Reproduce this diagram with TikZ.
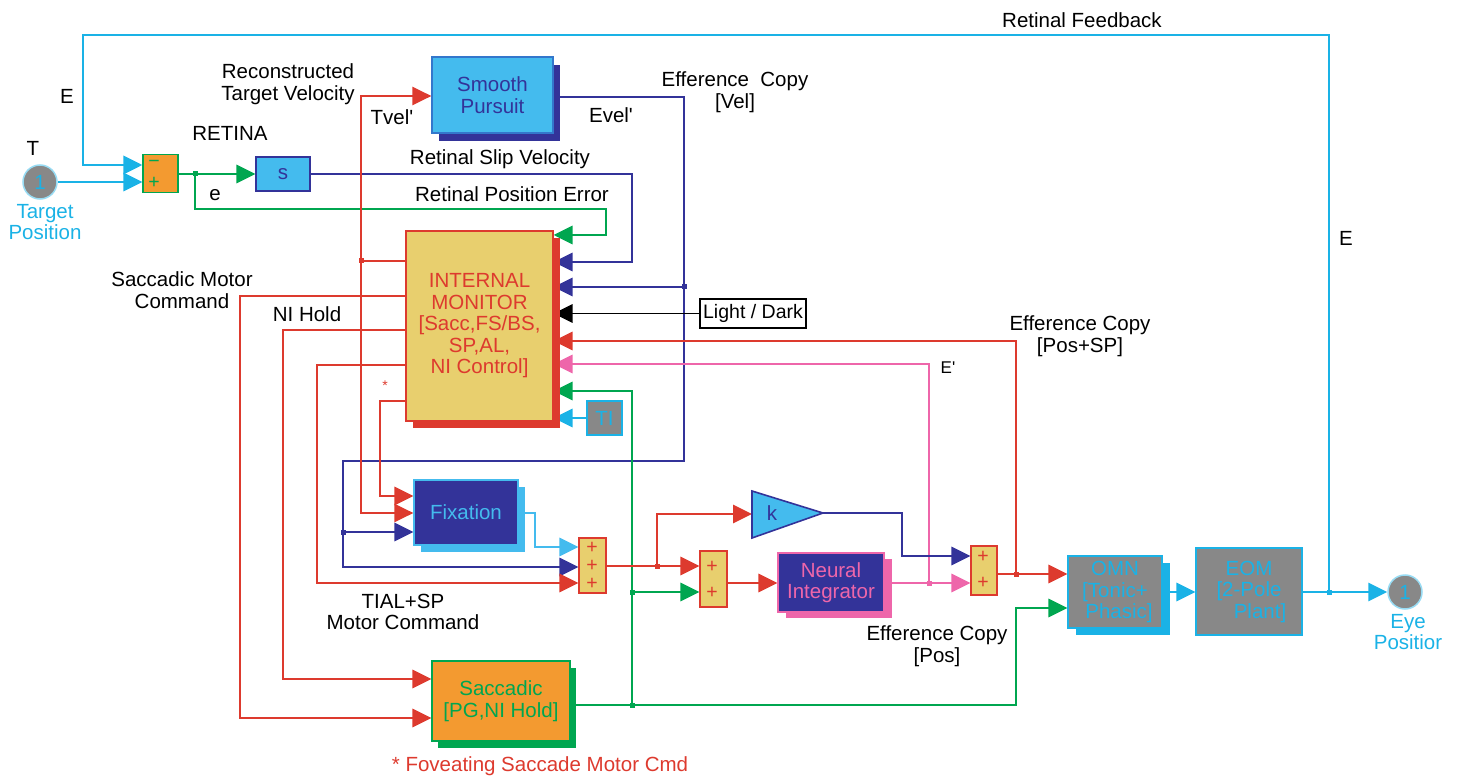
\documentclass[tikz,border=0pt]{standalone}
\usepackage{fontspec}
\setmainfont{Liberation Sans}[Ligatures=TeXOff]
\usetikzlibrary{arrows.meta,shadows,backgrounds}
\definecolor{cy}{HTML}{1AB2E6}
\definecolor{lb}{HTML}{44BBEE}
\definecolor{db}{HTML}{333399}
\definecolor{rd}{HTML}{DD3A2E}
\definecolor{gn}{HTML}{00A650}
\definecolor{pk}{HTML}{EE66AA}
\definecolor{og}{HTML}{F39A30}
\definecolor{ye}{HTML}{E8CF6E}
\definecolor{gy}{HTML}{888888}
\definecolor{spb}{HTML}{3377CC}
\begin{document}
\begin{tikzpicture}[x=1pt,y=-1pt,
  font=\fontsize{20.5}{21.5}\selectfont,
  wire/.style={line width=1.8pt},
  arr/.style={wire,-{Triangle[length=19pt,width=18.5pt]}},
  blk/.style={draw,line width=1.4pt,inner sep=0pt,align=center},
  sumb/.style={draw=rd,fill=ye,line width=1.4pt,inner sep=0pt},
  lbl/.style={align=center,inner sep=0pt},
  jdot/.style={minimum size=5pt,inner sep=0pt,draw=none},
  sgn/.style={inner sep=0pt,text=rd,font=\fontsize{19.5}{19.5}\selectfont},
  shd/.style n args={3}{drop shadow={shadow xshift=#1pt,shadow yshift=-#2pt,fill=#3,opacity=1}},
]
\useasboundingbox (0,0) rectangle (1460,778);

% ---------- blocks ----------
\node[circle,draw=cy!45!white,fill=gy,line width=1.5pt,minimum size=34pt,inner sep=0pt,text=cy] (tp) at (40,182) {1};
\node[circle,draw=cy!45!white,fill=gy,line width=1.5pt,minimum size=34pt,inner sep=0pt,text=cy] (eye) at (1405,592) {1};
\node[blk,draw=gn,fill=og,minimum width=35pt,minimum height=38pt] (sum1) at (160.5,173.5) {};
\node[sgn,text=gn] (m1) at (154,164) {−};
\node[sgn,text=gn] (p1) at (154,183) {+};
\node[blk,draw=db,fill=lb,text=db,minimum width=54pt,minimum height=34pt] (s) at (283,174) {s};
\node[blk,draw=spb,fill=lb,text=db,minimum width=121pt,minimum height=76pt,shd={7}{8}{db}] (sp) at (492.5,95) {Smooth\\Pursuit};
\node[blk,draw=rd,fill=ye,text=rd,minimum width=147pt,minimum height=190pt,shd={7}{7}{rd}] (im) at (479.5,326) {INTERNAL\\MONITOR\\{}[Sacc,FS/BS,\\SP,AL,\\NI Control]};
\node[blk,draw=cy,fill=gy,text=cy,minimum width=35pt,minimum height=34pt] (ti) at (604.5,418) {TI};
\node[blk,draw=black,fill=white,minimum width=106pt,minimum height=29pt,line width=1.2pt,font=\fontsize{19.5}{20}\selectfont] (ld) at (753,313.5) {Light / Dark};
\node[blk,draw=lb,fill=db,text=lb,minimum width=104pt,minimum height=65pt,shd={7}{7}{lb}] (fix) at (466,512.5) {Fixation};
\node[sumb,minimum width=27pt,minimum height=55pt] (sum2) at (592.5,565.5) {};
\node[sgn] (p21) at (592,548) {+};
\node[sgn] (p22) at (592,566) {+};
\node[sgn] (p23) at (592,584) {+};
\node[sumb,minimum width=27pt,minimum height=56pt] (sum3) at (713.5,579) {};
\node[sgn] (p31) at (712,567) {+};
\node[sgn] (p32) at (712,593) {+};
\draw[db,fill=lb,line width=1.6pt] (752,491) -- (823,513) -- (752,538) -- cycle;
\node[text=db,inner sep=0pt] (klab) at (772,513) {k};
\node[blk,draw=pk,fill=db,text=pk,minimum width=106pt,minimum height=59pt,shd={8}{6}{pk}] (ni) at (831,582.5) {Neural\\Integrator};
\node[sumb,minimum width=26pt,minimum height=49pt] (sum4) at (984,570.5) {};
\node[sgn] (p41) at (983,557) {+};
\node[sgn] (p42) at (983,583) {+};
\node[blk,draw=cy,fill=gy,text=cy,minimum width=94pt,minimum height=72pt,shd={8}{7}{cy}] (omn) at (1115,592) {OMN\\{}[Tonic+\\\hspace*{8pt}Phasic]};
\node[blk,draw=cy,fill=gy,text=cy,minimum width=106pt,minimum height=87pt] (eom) at (1249,591.5) {EOM\\{}[2-Pole\\\hspace*{22pt}Plant]};
\node[blk,draw=gn,fill=og,text=gn,minimum width=138pt,minimum height=80pt,shd={6}{7}{gn}] (sac) at (501,701) {Saccadic\\{}[PG,NI Hold]};

% ---------- junctions ----------
\coordinate (jE) at (1329,592);
\coordinate (je) at (195,174);
\coordinate (jb1) at (684,287);
\coordinate (jb2) at (343,532);
\coordinate (jr1) at (361,261);
\coordinate (jr2) at (657,566);
\coordinate (jg1) at (632,705);
\coordinate (jg2) at (632,592);
\coordinate (jp) at (929,583);
\coordinate (j4) at (1016,574);
\coordinate (kin) at (752,514);
\coordinate (kout) at (823,513);

% ---------- connectors ----------
\begin{scope}[on background layer]
\draw[arr,cy,line width=2.2pt] (jE) |- (83,35) |- (sum1.west |- 0,165);
\draw[arr,cy] (tp.east) -- (sum1.west |- tp.east);
\draw[arr,gn] (sum1.east |- s.west) -- (s.west);
\draw[arr,gn] (je) |- (606,209) |- (im.east |- 0,235);
\draw[arr,db] (s.east) -| (632,262) -- (im.east |- 0,262);
\draw[arr,db] (sp.east |- 0,97) -| (684,461) -| (343,567) -- (sum2.west |- 0,567);
\draw[arr,db] (jb1) -- (im.east |- jb1);
\draw[arr,db] (jb2) -- (fix.west |- jb2);
\draw[arr,black] (ld.west) -- (im.east |- ld.west);
\draw[arr,rd] (j4) |- (im.east |- 0,341);
\draw[arr,pk] (jp) |- (im.east |- 0,364);
\draw[arr,gn] (jg1) |- (im.east |- 0,391);
\draw[arr,gn] (jg2) -- (sum3.west |- jg2);
\draw[arr,cy] (ti.west) -- (im.east |- ti.west);
\draw[wire,rd,line width=1.4pt] (im.west |- jr1) -- (jr1);
\draw[arr,rd,line width=1.4pt] (jr1) |- (sp.west |- 0,96);
\draw[arr,rd,line width=1.4pt] (jr1) |- (fix.west |- 0,513);
\draw[arr,rd] (im.west |- 0,296) -| (240,718) -- (sac.west |- 0,718);
\draw[arr,rd] (im.west |- 0,330) -| (283,679) -- (sac.west |- 0,679);
\draw[arr,rd] (im.west |- 0,365) -| (317,583) -- (sum2.west |- 0,583);
\draw[arr,rd] (im.west |- 0,401) -| (380,496) -- (fix.west |- 0,496);
\draw[arr,lb] (fix.east |- 0,513) -| (535,547) -- (sum2.west |- 0,547);
\draw[arr,rd] (sum2.east |- jr2) -- (sum3.west |- jr2);
\draw[arr,rd] (jr2) |- (kin);
\draw[arr,rd] (sum3.east |- 0,583) -- (ni.west |- 0,583);
\draw[arr,db] (kout) -| (902,556) -- (sum4.west |- 0,556);
\draw[arr,pk] (ni.east |- jp) -- (sum4.west |- jp);
\draw[arr,rd] (sum4.east |- j4) -- (omn.west |- j4);
\draw[arr,gn] (sac.east |- jg1) -| (1016,608) -- (omn.west |- 0,608);
\draw[arr,cy] (omn.east |- jE) -- (eom.west |- jE);
\draw[arr,cy] (eom.east |- jE) -- (eye.west);
\node[jdot,fill=cy] (d1) at (jE) {};
\node[jdot,fill=gn] (d2) at (je) {};
\node[jdot,fill=db] (d3) at (jb1) {};
\node[jdot,fill=db] (d4) at (jb2) {};
\node[jdot,fill=rd] (d5) at (jr1) {};
\node[jdot,fill=rd] (d6) at (jr2) {};
\node[jdot,fill=gn] (d7) at (jg1) {};
\node[jdot,fill=gn] (d8) at (jg2) {};
\node[jdot,fill=pk] (d9) at (jp) {};
\node[jdot,fill=rd] (d10) at (j4) {};
\end{scope}

% ---------- labels ----------
\node[lbl] (l1) at (1082,20) {Retinal Feedback};
\node[lbl] (l2) at (67,96) {E};
\node[lbl] (l3) at (33,148) {T};
\node[lbl,text=cy] (l4) at (45,222) {Target\\Position};
\node[lbl] (l5) at (230,133) {RETINA};
\node[lbl] (l6) at (288,84) {Reconstructed\\Target Velocity};
\node[lbl] (l7) at (392,117) {Tvel'};
\node[lbl] (l8) at (611,115) {Evel'};
\node[lbl] (l9) at (735,92) {Efference~ Copy\\{}[Vel]};
\node[lbl] (l10) at (500,159) {Retinal Slip Velocity};
\node[lbl] (l11) at (215,195) {e};
\node[lbl] (l12) at (512,194) {Retinal Position Error};
\node[lbl] (l13) at (182,290) {Saccadic Motor\\Command};
\node[lbl] (l14) at (307,314) {NI Hold};
\node[lbl,text=rd,font=\fontsize{14}{14}\selectfont] (l15) at (385,386) {*};
\node[lbl] (l16) at (1080,336) {Efference Copy\\{}[Pos+SP]};
\node[lbl,font=\fontsize{17}{17}\selectfont] (l17) at (948,368) {E'};
\node[lbl] (l18) at (403,612) {TIAL+SP\\Motor Command};
\node[lbl] (l19) at (937,646) {Efference Copy\\{}[Pos]};
\node[lbl] (l20) at (1346,238) {E};
\node[lbl,text=cy] (l21) at (1408,632) {Eye\\Positior};
\node[lbl,text=rd] (l22) at (540,766) {* Foveating Saccade Motor Cmd};
\end{tikzpicture}
\end{document}
